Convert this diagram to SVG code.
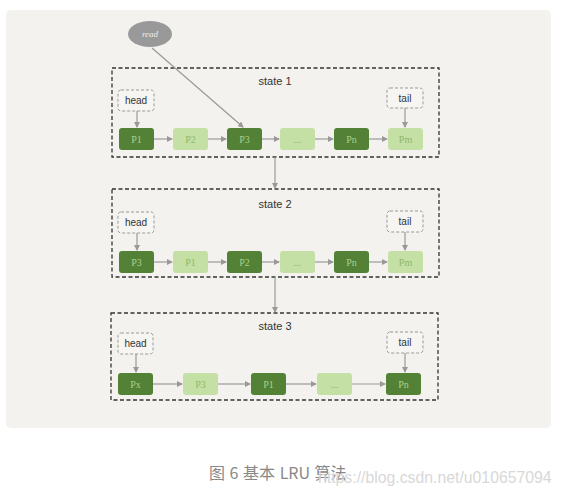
<svg xmlns="http://www.w3.org/2000/svg" width="561" height="498" viewBox="0 0 561 498">
<style>
.dk{fill:#538135}
.lt{fill:#c5e0a5}
.tdk{fill:#a9d18e;font-family:"Liberation Serif",serif;font-size:10px;text-anchor:middle}
.tlt{fill:#8db86a;font-family:"Liberation Serif",serif;font-size:10px;text-anchor:middle}
.state{fill:none;stroke:#333;stroke-width:1.3;stroke-dasharray:4,2.5}
.ptr{fill:#f6f5f1;stroke:#999;stroke-width:1;stroke-dasharray:3,2}
.lbl{fill:#333;font-family:"Liberation Sans",sans-serif;font-size:10px;text-anchor:middle}
.ttl{fill:#333;font-family:"Liberation Sans",sans-serif;font-size:11px;text-anchor:middle}
.ln{stroke:#999;stroke-width:1.2;fill:none;marker-end:url(#ah)}
</style>
<defs>
<marker id="ah" markerWidth="6" markerHeight="6" refX="5" refY="3" orient="auto" markerUnits="userSpaceOnUse">
<path d="M0,0 L6,3 L0,6 Z" fill="#999"/>
</marker>
</defs>
<rect x="6" y="10" width="545" height="418" rx="5" fill="#f3f2ee"/>

<g id="read"><ellipse cx="150" cy="34" rx="22" ry="13" fill="#999"/><text x="150" y="37" style="fill:#eee;font-family:'Liberation Serif',serif;font-size:9px;text-anchor:middle;font-style:italic">read</text></g>

<g id="state1">
<rect class="state" x="112" y="68" width="327" height="89"/>
<text class="ttl" x="275" y="85">state 1</text>
<g id="s1-head"><rect class="ptr" x="118" y="90" width="36" height="21" rx="3"/><text class="lbl" x="136" y="104">head</text></g>
<g id="s1-tail"><rect class="ptr" x="387" y="88" width="36" height="20" rx="3"/><text class="lbl" x="405" y="102">tail</text></g>
<g id="s1-p1"><rect class="dk" x="119" y="128" width="35" height="22" rx="3"/><text class="tdk" x="136.5" y="142.5">P1</text></g>
<g id="s1-p2"><rect class="lt" x="173" y="128" width="35" height="22" rx="3"/><text class="tlt" x="190.5" y="142.5">P2</text></g>
<g id="s1-p3"><rect class="dk" x="227" y="128" width="35" height="22" rx="3"/><text class="tdk" x="244.5" y="142.5">P3</text></g>
<g id="s1-dots"><rect class="lt" x="280" y="128" width="35" height="22" rx="3"/><text class="tlt" x="297.5" y="142.5">...</text></g>
<g id="s1-pn"><rect class="dk" x="334" y="128" width="35" height="22" rx="3"/><text class="tdk" x="351.5" y="142.5">Pn</text></g>
<g id="s1-pm"><rect class="lt" x="388" y="128" width="35" height="22" rx="3"/><text class="tlt" x="405.5" y="142.5">Pm</text></g>
</g>

<g id="state2">
<rect class="state" x="112" y="189" width="327" height="88"/>
<text class="ttl" x="275" y="208">state 2</text>
<g id="s2-head"><rect class="ptr" x="118" y="212" width="36" height="21" rx="3"/><text class="lbl" x="136" y="226">head</text></g>
<g id="s2-tail"><rect class="ptr" x="387" y="211" width="36" height="21" rx="3"/><text class="lbl" x="405" y="225">tail</text></g>
<g id="s2-p3"><rect class="dk" x="119" y="251" width="35" height="22" rx="3"/><text class="tdk" x="136.5" y="265.5">P3</text></g>
<g id="s2-p1"><rect class="lt" x="173" y="251" width="35" height="22" rx="3"/><text class="tlt" x="190.5" y="265.5">P1</text></g>
<g id="s2-p2"><rect class="dk" x="227" y="251" width="35" height="22" rx="3"/><text class="tdk" x="244.5" y="265.5">P2</text></g>
<g id="s2-dots"><rect class="lt" x="280" y="251" width="35" height="22" rx="3"/><text class="tlt" x="297.5" y="265.5">...</text></g>
<g id="s2-pn"><rect class="dk" x="334" y="251" width="35" height="22" rx="3"/><text class="tdk" x="351.5" y="265.5">Pn</text></g>
<g id="s2-pm"><rect class="lt" x="388" y="251" width="35" height="22" rx="3"/><text class="tlt" x="405.5" y="265.5">Pm</text></g>
</g>

<g id="state3">
<rect class="state" x="111" y="313" width="327" height="87"/>
<text class="ttl" x="275" y="330">state 3</text>
<g id="s3-head"><rect class="ptr" x="118" y="333" width="35" height="21" rx="3"/><text class="lbl" x="135.5" y="347">head</text></g>
<g id="s3-tail"><rect class="ptr" x="387" y="332" width="36" height="21" rx="3"/><text class="lbl" x="405" y="346">tail</text></g>
<g id="s3-px"><rect class="dk" x="118" y="373" width="35" height="22" rx="3"/><text class="tdk" x="135.5" y="387.5">Px</text></g>
<g id="s3-p3"><rect class="lt" x="183" y="373" width="35" height="22" rx="3"/><text class="tlt" x="200.5" y="387.5">P3</text></g>
<g id="s3-p1"><rect class="dk" x="251" y="373" width="35" height="22" rx="3"/><text class="tdk" x="268.5" y="387.5">P1</text></g>
<g id="s3-dots"><rect class="lt" x="317" y="373" width="35" height="22" rx="3"/><text class="tlt" x="334.5" y="387.5">...</text></g>
<g id="s3-pn"><rect class="dk" x="386" y="373" width="35" height="22" rx="3"/><text class="tdk" x="403.5" y="387.5">Pn</text></g>
</g>

<g id="connectors">
<path class="ln" d="M152,48 L243,127"/>
<path class="ln" d="M137,111 V127"/>
<path class="ln" d="M405,108 V127"/>
<path class="ln" d="M154,139 H172"/>
<path class="ln" d="M208,139 H226"/>
<path class="ln" d="M262,139 H279"/>
<path class="ln" d="M315,139 H333"/>
<path class="ln" d="M369,139 H387"/>
<path class="ln" d="M275,157 V188"/>
<path class="ln" d="M137,233 V250"/>
<path class="ln" d="M405,232 V250"/>
<path class="ln" d="M154,262 H172"/>
<path class="ln" d="M208,262 H226"/>
<path class="ln" d="M262,262 H279"/>
<path class="ln" d="M315,262 H333"/>
<path class="ln" d="M369,262 H387"/>
<path class="ln" d="M275,277 V312"/>
<path class="ln" d="M136,354 V372"/>
<path class="ln" d="M405,353 V372"/>
<path class="ln" d="M153,384 H182"/>
<path class="ln" d="M218,384 H250"/>
<path class="ln" d="M286,384 H316"/>
<path class="ln" d="M352,384 H385"/>
</g>

<text x="209" y="479" style="fill:#888;font-family:'Noto Sans CJK SC',sans-serif;font-size:16px;word-spacing:1px">图 6 基本 LRU 算法</text>
<text x="318" y="483" style="fill:#d8d8d8;font-family:'Liberation Sans',sans-serif;font-size:15.8px">https://blog.csdn.net/u010657094</text>
</svg>
